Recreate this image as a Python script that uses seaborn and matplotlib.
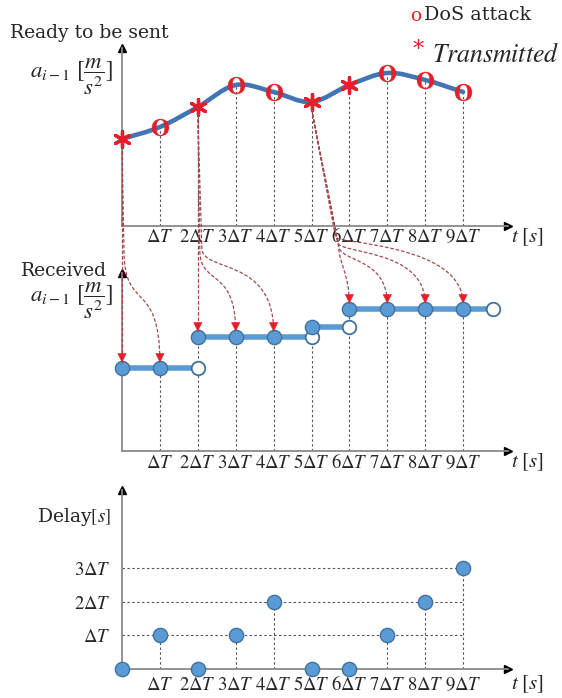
import numpy as np
import pandas as pd
import seaborn as sns
import matplotlib
matplotlib.use("Agg")
import matplotlib.pyplot as plt
from matplotlib.path import Path
from matplotlib.patches import PathPatch, FancyArrowPatch
from matplotlib.transforms import IdentityTransform

# ---------------- data ----------------
steps = [0, 1, 2, 3, 4, 5, 6, 7, 8, 9]
step_labels = ["", r"$\Delta T$", r"$2\Delta T$", r"$3\Delta T$", r"$4\Delta T$",
               r"$5\Delta T$", r"$6\Delta T$", r"$7\Delta T$", r"$8\Delta T$", r"$9\Delta T$"]
sent_accel = [0.87, 0.99, 1.19, 1.41, 1.34, 1.24, 1.41, 1.53, 1.46, 1.34]
sent_status = ["Transmitted", "DoS", "Transmitted", "DoS", "DoS",
               "Transmitted", "Transmitted", "DoS", "DoS", "DoS"]
received_accel = [0.83, 0.83, 1.14, 1.14, 1.14, 1.24, 1.42, 1.42, 1.42, 1.42]
hold_end = 9.8
delay_steps = [0, 1, 0, 1, 2, 0, 0, 1, 2, 3]
delay_ticks = [1, 2, 3]
delay_tick_labels = [r"$\Delta T$", r"$2\Delta T$", r"$3\Delta T$"]
# (sent index -> received index) links as drawn
links_from = [0, 0, 2, 2, 2, 5, 5, 5, 5]
links_to = [0, 1, 2, 3, 4, 6, 7, 8, 9]

# ---------------- style ----------------
sns.set_theme(style="white")
plt.rcParams["font.family"] = ["DejaVu Serif"]
plt.rcParams["mathtext.fontset"] = "stix"

BLUE = "#5b9bd5"
BLUE_EDGE = "#41719c"
CURVE = "#4276b2"
RED = "#e3202a"
LINK = "#a4484a"
DASH = (0, (2.2, 2.2))
GRID = "#555555"
TICK_FS = 13.5

W, H = 562, 698
fig = plt.figure(figsize=(W / 100, H / 100), dpi=100)
fig.patch.set_facecolor("white")

px_unit = 37.9
x_left, x_right = 122, 508
xmax = (x_right - x_left) / px_unit


def make_axes(y_bottom, y_top, ymax, label_dy, pad):
    ax = fig.add_axes([x_left / W, 1 - y_bottom / H, (x_right - x_left) / W, (y_bottom - y_top) / H])
    ax.set_xlim(0, xmax)
    ax.set_ylim(0, ymax)
    ax.set_facecolor("none")
    for s in ["top", "right"]:
        ax.spines[s].set_visible(False)
    for s in ["left", "bottom"]:
        ax.spines[s].set_color("#8a8a8a")
        ax.spines[s].set_linewidth(1.3)
    ax.plot(1, 0, marker=">", color="black", ms=6, transform=ax.transAxes, clip_on=False)
    ax.plot(0, 1, marker="^", color="black", ms=6, transform=ax.transAxes, clip_on=False)
    ax.set_xticks(steps[1:])
    ax.set_xticklabels(step_labels[1:])
    ax.set_yticks([])
    ax.tick_params(axis="x", length=0, labelsize=TICK_FS, pad=pad)
    for lbl in ax.get_xticklabels():
        lbl.set_verticalalignment("baseline")
    ax.annotate(r"$t\ [s]$", xy=(1, 0), xycoords="axes fraction", xytext=(3, label_dy),
                textcoords="offset pixels", ha="left", va="center", fontsize=15)
    return ax


ax_top = make_axes(226, 48, 1.78, -11, 11.5)
ax_mid = make_axes(451, 273, 1.78, -11, 12.0)
ax_bot = make_axes(669, 490, 179 / 33.7, -15, 14.8)

# ---------------- top panel ----------------
sent_df = pd.DataFrame({"t": steps, "a": sent_accel, "status": sent_status})
for t, a in zip(steps[1:], sent_accel[1:]):
    ax_top.plot([t, t], [0, a], color=GRID, lw=0.8, ls=DASH, zorder=1)

x = np.array(steps, float)
y = np.array(sent_accel, float)
m = np.empty_like(y)
m[1:-1] = (y[2:] - y[:-2]) / 2
m[0] = y[1] - y[0]
m[-1] = y[-1] - y[-2]
verts = [(x[0], y[0])]
codes = [Path.MOVETO]
for i in range(len(x) - 1):
    verts += [(x[i] + 1 / 3, y[i] + m[i] / 3), (x[i + 1] - 1 / 3, y[i + 1] - m[i + 1] / 3), (x[i + 1], y[i + 1])]
    codes += [Path.CURVE4] * 3
ax_top.add_patch(PathPatch(Path(verts, codes), facecolor="none", edgecolor=CURVE, lw=3.3,
                           capstyle="round", zorder=3))

tx = sent_df[sent_df.status == "Transmitted"]
dos = sent_df[sent_df.status == "DoS"]
sns.scatterplot(data=tx, x="t", y="a", ax=ax_top, marker=(6, 2, 0), s=130, color=RED,
                linewidth=2.4, zorder=5, legend=False, clip_on=False)
sns.scatterplot(data=dos, x="t", y="a", ax=ax_top, marker=r"$\mathbf{O}$", s=150, color=RED,
                linewidth=0.3, edgecolor=RED, zorder=5, legend=False, clip_on=False)

# ---------------- middle panel ----------------
rec = np.array(received_accel)
starts = [0] + [i for i in range(1, len(rec)) if rec[i] != rec[i - 1]]
ends = starts[1:] + [hold_end]
seg_rows = []
for k, (s0, s1) in enumerate(zip(starts, ends)):
    seg_rows += [{"seg": k, "t": steps[s0], "a": rec[s0]}, {"seg": k, "t": s1, "a": rec[s0]}]
seg_df = pd.DataFrame(seg_rows)

for i, t in enumerate(steps[1:], start=1):
    top = max(rec[i], rec[i - 1]) if i in starts else rec[i]
    ax_mid.plot([t, t], [0, top], color=GRID, lw=0.8, ls=DASH, zorder=1)

sns.lineplot(data=seg_df, x="t", y="a", units="seg", estimator=None, ax=ax_mid,
             color=BLUE, lw=4, zorder=3, legend=False)
open_df = pd.DataFrame({"t": ends, "a": [rec[s] for s in starts]})
rec_df = pd.DataFrame({"t": steps, "a": received_accel})
sns.scatterplot(data=open_df, x="t", y="a", ax=ax_mid, s=95, color="white",
                edgecolor=BLUE_EDGE, linewidth=1.3, zorder=4, legend=False, clip_on=False)
sns.scatterplot(data=rec_df, x="t", y="a", ax=ax_mid, s=105, color=BLUE,
                edgecolor=BLUE_EDGE, linewidth=1.0, zorder=5, legend=False, clip_on=False)

# ---------------- bottom panel ----------------
for lvl in delay_ticks:
    ax_bot.plot([0, steps[-1]], [lvl, lvl], color=GRID, lw=0.8, ls=DASH, zorder=1)
for t, d in zip(steps, delay_steps):
    if d > 0:
        ax_bot.plot([t, t], [0, d], color=GRID, lw=0.8, ls=DASH, zorder=1)
delay_df = pd.DataFrame({"t": steps, "d": delay_steps})
sns.scatterplot(data=delay_df, x="t", y="d", ax=ax_bot, s=105, color=BLUE,
                edgecolor=BLUE_EDGE, linewidth=1.0, zorder=5, legend=False, clip_on=False)
ax_bot.set_yticks(delay_ticks)
ax_bot.set_yticklabels(delay_tick_labels)
ax_bot.tick_params(axis="y", length=0, pad=8, labelsize=TICK_FS)
for ax in (ax_top, ax_mid, ax_bot):
    ax.set_xlabel("")
    ax.set_ylabel("")
    for lbl in ax.get_xticklabels():
        lbl.set_verticalalignment("baseline")

# ---------------- links from sent to received (S-shaped dashed arrows) ----------------
# geometry style: (split dx, split dy) in pixels below the sent point, then bezier factors
link_geom = {
    (0, 1): ((2, 112), 0.55, 0.75),
    (2, 3): ((2, 143), 0.45, 0.80),
    (2, 4): ((4, 141), 0.30, 0.90),
    (5, 6): ((27, 143), 0.30, 0.50),
    (5, 7): ((27, 143), 0.30, 0.80),
    (5, 8): ((26, 140), 0.20, 0.90),
    (5, 9): ((24, 135), 0.10, 0.90),
}
fig.canvas.draw()
ident = IdentityTransform()
for a, b in zip(links_from, links_to):
    ax_, ay_ = ax_top.transData.transform((steps[a], sent_accel[a]))
    bx_, by_ = ax_mid.transData.transform((steps[b], received_accel[b]))
    by_ += 5.5
    if (a, b) in link_geom:
        (sdx, sdy), f1, f2 = link_geom[(a, b)]
        px_, py_ = ax_ + sdx, ay_ - sdy
        dy = py_ - by_
        c1 = (px_, py_ - f1 * dy)
        c2 = (bx_, by_ + f2 * dy)
        vts = [(ax_, ay_ - 7), (px_, py_), c1, c2, (bx_, by_)]
        cds = [Path.MOVETO, Path.LINETO, Path.CURVE4, Path.CURVE4, Path.CURVE4]
        hx, hy = c2
    else:
        vts = [(ax_, ay_ - 7), (bx_, by_)]
        cds = [Path.MOVETO, Path.LINETO]
        hx, hy = ax_, ay_
    line = FancyArrowPatch(path=Path(vts, cds), arrowstyle="-", color=LINK, lw=0.9,
                           ls=DASH, transform=ident, zorder=6)
    fig.add_artist(line)
    vx, vy = bx_ - hx, by_ - hy
    n = np.hypot(vx, vy)
    head = FancyArrowPatch(posA=(bx_ - 9 * vx / n, by_ - 9 * vy / n), posB=(bx_, by_),
                           arrowstyle="-|>,head_length=0.6,head_width=0.3", mutation_scale=10,
                           facecolor=RED, edgecolor=RED, lw=0.4, shrinkA=0, shrinkB=0,
                           transform=ident, zorder=7)
    fig.add_artist(head)

# ---------------- texts ----------------
fig.text(10 / W, 1 - 33 / H, "Ready to be sent", fontsize=13.5, ha="left", va="center")
fig.text(113 / W, 1 - 77 / H, r"$a_{i-1}\ [\dfrac{m}{s^2}]$", fontsize=16.5, ha="right", va="center")
fig.text(107 / W, 1 - 271 / H, "Received", fontsize=13.5, ha="right", va="center")
fig.text(113 / W, 1 - 301 / H, r"$a_{i-1}\ [\dfrac{m}{s^2}]$", fontsize=16.5, ha="right", va="center")
fig.text(111 / W, 1 - 517 / H, r"Delay$[s]$", fontsize=13.5, ha="right", va="center")

fig.text(410 / W, 1 - 16 / H, "o", fontsize=13.5, color=RED, ha="left", va="center")
fig.text(424 / W, 1 - 15 / H, "DoS attack", fontsize=13.8, ha="left", va="center")
fig.text(413 / W, 1 - 50 / H, "*", fontsize=16, color=RED, ha="left", va="center")
fig.text(432 / W, 1 - 55 / H, r"$Transmitted$", fontsize=18.5, ha="left", va="center")

fig.savefig("out.png", dpi=100, facecolor="white")
